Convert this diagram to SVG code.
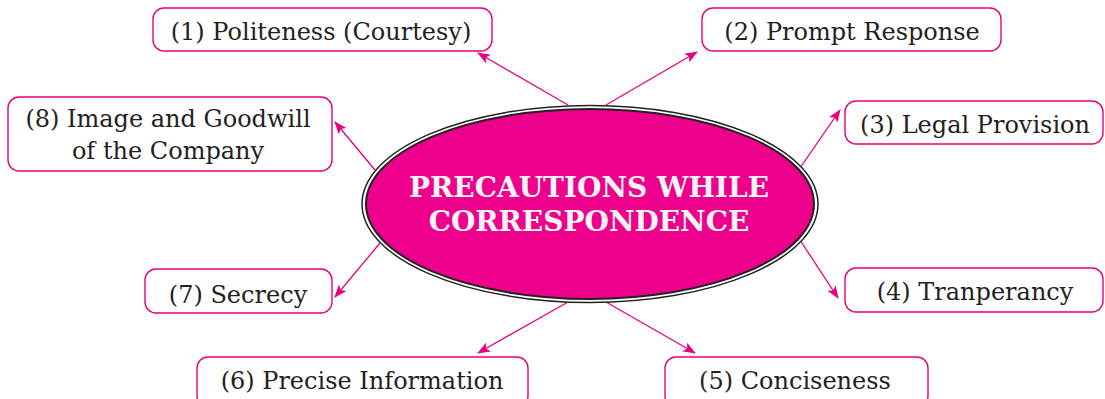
<svg xmlns="http://www.w3.org/2000/svg" width="1105" height="399" viewBox="0 0 1105 399">
  <style>
    .box { fill: #ffffff; stroke: #e6007e; stroke-width: 1.4; }
    .lbl { font-family: "DejaVu Serif", "Liberation Serif", serif; font-size: 24px; fill: #231f20; text-anchor: middle; }
    .title { font-family: "DejaVu Serif", "Liberation Serif", serif; font-weight: bold; font-size: 28px; fill: #f4f4f4; text-anchor: middle; }
    .conn line { stroke: #e6007e; stroke-width: 1.3; marker-end: url(#arrow); }
  </style>
  <defs>
    <marker id="arrow" viewBox="0 0 13 10" refX="12" refY="5" markerWidth="13" markerHeight="10" markerUnits="userSpaceOnUse" orient="auto">
      <path d="M0,0 L13,5 L0,10 L3,5 Z" fill="#e6007e"/>
    </marker>
  </defs>
  <rect width="1105" height="399" fill="#ffffff"/>

  <!-- connectors from the central ellipse to each item -->
  <g id="connectors" class="conn">
    <line x1="568" y1="105" x2="478" y2="53"/>
    <line x1="606" y1="105" x2="697" y2="52"/>
    <line x1="800" y1="168" x2="840" y2="110"/>
    <line x1="800" y1="240" x2="838" y2="298"/>
    <line x1="606" y1="302" x2="695" y2="353"/>
    <line x1="568" y1="302" x2="478" y2="353"/>
    <line x1="380" y1="243" x2="335" y2="297"/>
    <line x1="375" y1="170" x2="335" y2="122"/>
  </g>

  <!-- central node -->
  <g id="center">
    <ellipse cx="590" cy="204" rx="228" ry="98.5" fill="#ffffff" stroke="#222" stroke-width="1.5"/>
    <ellipse cx="590" cy="204" rx="224" ry="95" fill="#ec008c" stroke="#222" stroke-width="2"/>
    <text class="title" x="589" y="197">PRECAUTIONS WHILE</text>
    <text class="title" x="589" y="231">CORRESPONDENCE</text>
  </g>

  <g id="n1">
    <rect class="box" x="153" y="8" width="339" height="43" rx="11"/>
    <text class="lbl" x="321" y="40">(1) Politeness (Courtesy)</text>
  </g>
  <g id="n2">
    <rect class="box" x="702" y="8" width="299" height="43" rx="11"/>
    <text class="lbl" x="852" y="40">(2) Prompt Response</text>
  </g>
  <g id="n3">
    <rect class="box" x="845" y="101" width="258" height="43" rx="11"/>
    <text class="lbl" x="975" y="133">(3) Legal Provision</text>
  </g>
  <g id="n4">
    <rect class="box" x="845" y="268" width="258" height="44" rx="11"/>
    <text class="lbl" x="975" y="300">(4) Tranperancy</text>
  </g>
  <g id="n5">
    <rect class="box" x="665" y="357" width="263" height="50" rx="11"/>
    <text class="lbl" x="795" y="389">(5) Conciseness</text>
  </g>
  <g id="n6">
    <rect class="box" x="197" y="357" width="331" height="50" rx="11"/>
    <text class="lbl" x="362" y="389">(6) Precise Information</text>
  </g>
  <g id="n7">
    <rect class="box" x="145" y="269" width="187" height="44" rx="11"/>
    <text class="lbl" x="238" y="303">(7) Secrecy</text>
  </g>
  <g id="n8">
    <rect class="box" x="8" y="97" width="324" height="74" rx="11"/>
    <text class="lbl" x="168" y="127">(8) Image and Goodwill</text>
    <text class="lbl" x="168" y="159">of the Company</text>
  </g>
</svg>
